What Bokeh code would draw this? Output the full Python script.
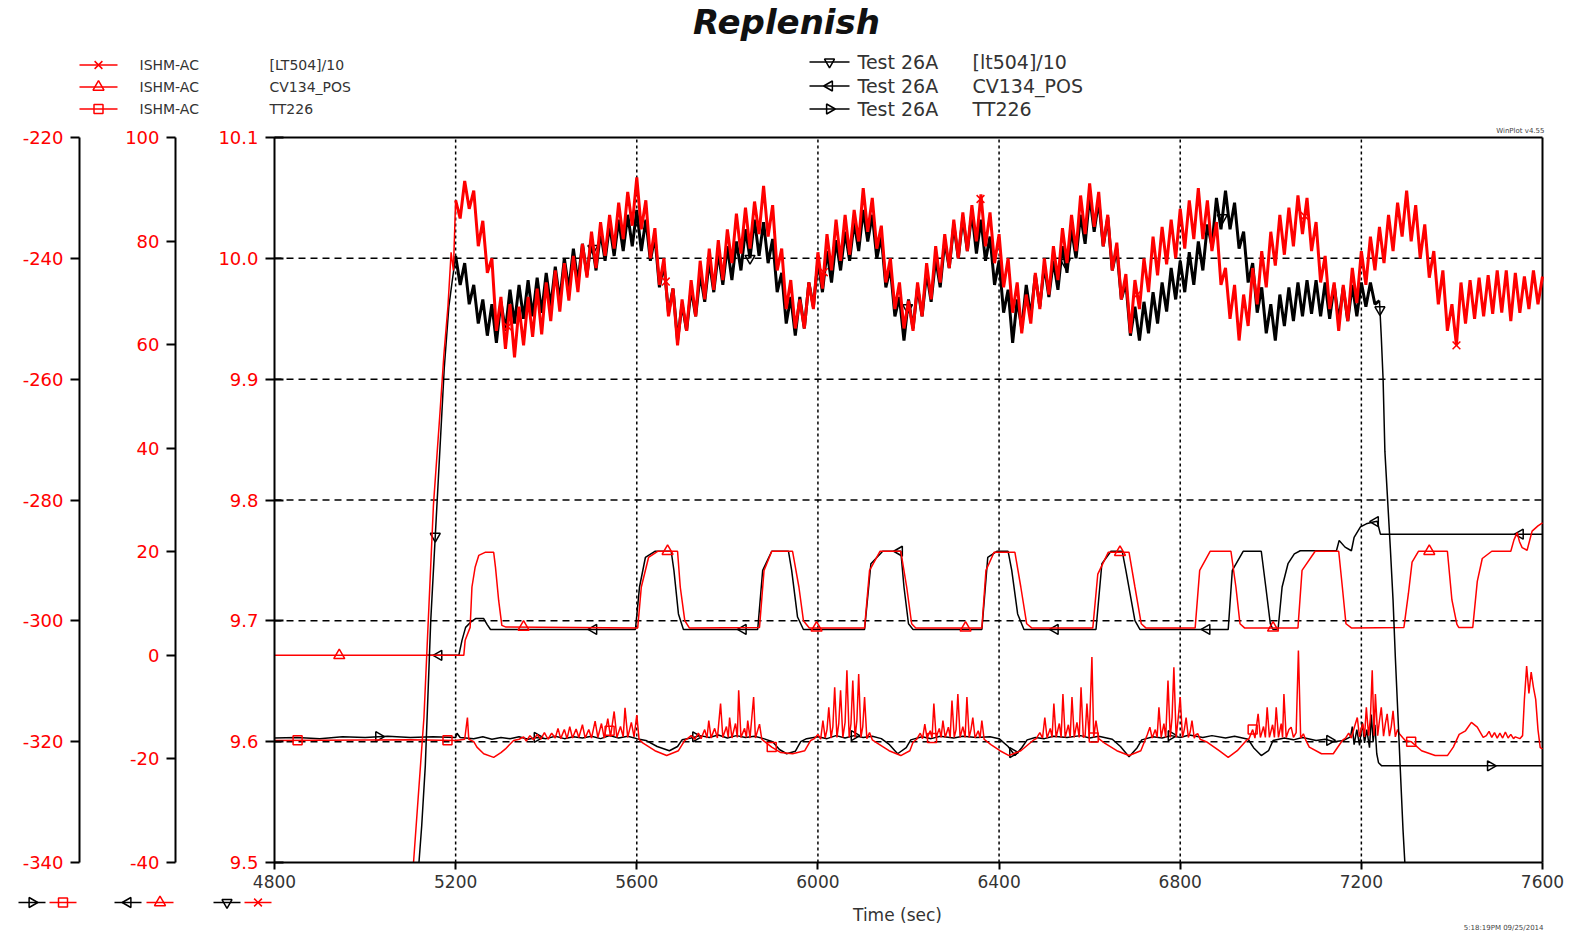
import numpy as np
from bokeh.plotting import figure
from bokeh.models import Range1d, LinearAxis, FixedTicker, PrintfTickFormatter
from bokeh.core.properties import value
from bokeh.embed import file_html
from bokeh.resources import INLINE

# ---------------- data ----------------
x_ticks = [4800, 5200, 5600, 6000, 6400, 6800, 7200, 7600]
lt_ticks = [9.5, 9.6, 9.7, 9.8, 9.9, 10.0, 10.1]
cv_ticks = [-40, -20, 0, 20, 40, 60, 80, 100]
tt_ticks = [-340, -320, -300, -280, -260, -240, -220]

# ISHM-AC [LT504]/10  (enters the plotted range at 9.5)
lt_red_rise_t = [5107, 5130, 5151, 5165, 5174, 5183, 5190, 5195, 5200]
lt_red_rise_v = [9.50, 9.62, 9.796, 9.87, 9.92, 9.96, 10.005, 9.99, 10.048]
lt_red_vals = [
    10.048, 10.033, 10.064, 10.041, 10.056, 10.010, 10.031, 9.988, 10.000, 9.940,
    9.968, 9.925, 9.962, 9.918, 9.960, 9.928, 9.968, 9.935, 9.975, 9.937,
    9.980, 9.948, 9.990, 9.956, 9.996, 9.965, 10.002, 9.972, 10.012, 9.984,
    10.022, 9.992, 10.030, 10.002, 10.036, 10.008, 10.046, 10.016, 10.055, 10.027,
    10.067, 10.024, 10.048, 10.000, 10.025, 9.978, 10.000, 9.952, 9.975, 9.928,
    9.966, 9.940, 9.982, 9.952, 9.998, 9.966, 10.008, 9.974, 10.015, 9.982,
    10.024, 9.996, 10.037, 10.004, 10.042, 10.008, 10.047, 10.020, 10.060, 10.018,
    10.044, 9.990, 10.008, 9.958, 9.982, 9.942, 9.966, 9.942, 9.980, 9.958,
    10.005, 9.975, 10.020, 9.990, 10.032, 9.998, 10.036, 10.003, 10.040, 10.014,
    10.058, 10.022, 10.050, 10.008, 10.027, 9.980, 10.000, 9.958, 9.980, 9.942,
    9.965, 9.940, 9.980, 9.952, 9.996, 9.966, 10.010, 9.980, 10.020, 9.992,
    10.032, 10.000, 10.038, 10.006, 10.044, 10.014, 10.053, 10.010, 10.038, 9.996,
    10.020, 9.976, 10.000, 9.955, 9.980, 9.938, 9.970, 9.946, 9.988, 9.958,
    10.000, 9.970, 10.010, 9.982, 10.025, 9.996, 10.036, 10.006, 10.052, 10.020,
    10.062, 10.026, 10.055, 10.010, 10.036, 9.990, 10.013, 9.966, 9.987, 9.938,
    9.982, 9.958, 10.000, 9.972, 10.018, 9.986, 10.026, 9.995, 10.032, 10.000,
    10.041, 10.008, 10.048, 10.016, 10.058, 10.016, 10.048, 10.006, 10.030, 9.978,
    9.992, 9.950, 9.978, 9.932, 9.970, 9.944, 9.992, 9.962, 10.006, 9.976,
    10.022, 9.994, 10.036, 10.003, 10.042, 10.010, 10.052, 10.020, 10.050, 10.006,
    10.030, 9.980, 10.002, 9.958, 9.980, 9.940, 9.978, 9.948, 9.992, 9.963,
    10.006, 9.978, 10.018, 9.990, 10.026, 9.996, 10.036, 10.006, 10.046, 10.018,
    10.056, 10.014, 10.044, 10.000, 10.028, 9.984, 10.006, 9.962, 9.990, 9.940,
    9.962, 9.928, 9.980, 9.946, 9.982, 9.950, 9.984, 9.952, 9.986, 9.954,
    9.990, 9.955, 9.990, 9.948, 9.988, 9.955, 9.985, 9.958, 9.990, 9.962,
    9.985,
]

# Test 26A [lt504]/10
lt_blk_rise_t = [5119, 5125, 5133, 5145, 5155, 5165, 5175, 5185, 5192, 5200]
lt_blk_rise_v = [9.50, 9.53, 9.58, 9.70, 9.77, 9.84, 9.91, 9.96, 9.98, 10.002]
lt_blk_vals = [
    10.002, 9.978, 9.996, 9.962, 9.978, 9.946, 9.966, 9.936, 9.962, 9.930,
    9.964, 9.940, 9.974, 9.946, 9.978, 9.950, 9.982, 9.952, 9.984, 9.955,
    9.988, 9.960, 9.993, 9.965, 10.000, 9.974, 10.008, 9.980, 10.012, 9.986,
    10.016, 9.990, 10.022, 9.998, 10.028, 10.002, 10.032, 10.006, 10.036, 10.010,
    10.040, 10.006, 10.032, 9.998, 10.018, 9.976, 9.995, 9.955, 9.975, 9.932,
    9.962, 9.940, 9.975, 9.952, 9.987, 9.964, 9.998, 9.972, 10.005, 9.978,
    10.010, 9.982, 10.014, 9.990, 10.024, 10.000, 10.032, 10.002, 10.030, 9.996,
    10.016, 9.972, 9.988, 9.946, 9.968, 9.936, 9.968, 9.942, 9.980, 9.960,
    9.998, 9.972, 10.006, 9.980, 10.015, 9.990, 10.022, 9.998, 10.030, 10.006,
    10.040, 10.014, 10.036, 10.000, 10.018, 9.976, 9.992, 9.952, 9.968, 9.932,
    9.966, 9.942, 9.976, 9.952, 9.988, 9.964, 10.000, 9.976, 10.014, 9.992,
    10.028, 10.000, 10.034, 10.006, 10.038, 10.004, 10.032, 9.998, 10.018, 9.978,
    9.998, 9.955, 9.974, 9.930, 9.966, 9.942, 9.978, 9.952, 9.986, 9.960,
    9.994, 9.968, 9.998, 9.974, 10.010, 9.988, 10.024, 10.000, 10.036, 10.012,
    10.052, 10.022, 10.048, 10.010, 10.034, 9.990, 10.008, 9.966, 9.980, 9.936,
    9.960, 9.932, 9.964, 9.938, 9.972, 9.946, 9.980, 9.956, 9.992, 9.966,
    9.998, 9.972, 10.005, 9.978, 10.014, 9.990, 10.028, 10.010, 10.050, 10.024,
    10.056, 10.024, 10.046, 10.008, 10.022, 9.980, 9.996, 9.955, 9.976, 9.938,
    9.962, 9.932, 9.970, 9.944, 9.976, 9.948, 9.980, 9.952, 9.982, 9.954,
    9.982, 9.952, 9.980, 9.950, 9.978, 9.948, 9.976, 9.948, 9.978, 9.952,
    9.980, 9.960, 9.980, 9.962, 9.965,
]
lt_blk_drop_t = [7240, 7244, 7248, 7252, 7258, 7264, 7270, 7275, 7281, 7286, 7292, 7296]
lt_blk_drop_v = [9.965, 9.935, 9.90, 9.84, 9.80, 9.76, 9.717, 9.67, 9.62, 9.577, 9.527, 9.50]

# ISHM-AC CV134_POS
cv_red = [
    (4800, 0), (5218, 0), (5221, 2.9), (5232, 5.4), (5236, 13.2), (5243, 17.0), (5251, 19.3),
    (5265, 19.9), (5284, 19.9), (5288, 17.0), (5295, 10.6), (5302, 5.8), (5310, 5.5),
    (5602, 5.3), (5610, 13.2), (5626, 18.9), (5646, 20.1), (5690, 20.1), (5696, 13.2), (5706, 6.7), (5716, 5.3),
    (5871, 5.4), (5881, 16.4), (5898, 20.1), (5944, 20.1), (5958, 13.2), (5968, 6.7), (5981, 5.3),
    (6103, 5.3), (6114, 16.4), (6137, 20.1), (6183, 20.1), (6196, 13.2), (6207, 6.1), (6216, 5.3),
    (6362, 5.3), (6371, 16.4), (6389, 19.9), (6435, 19.9), (6448, 13.2), (6461, 6.1), (6472, 5.3),
    (6607, 5.3), (6618, 15.7), (6641, 19.9), (6687, 19.9), (6700, 13.2), (6714, 6.1), (6724, 5.3),
    (6833, 5.3), (6843, 16.4), (6866, 20.1), (6912, 20.1), (6923, 13.2), (6932, 6.1), (6942, 5.3),
    (7060, 5.3), (7069, 16.4), (7098, 20.1), (7150, 20.1), (7158, 13.2), (7166, 6.1), (7178, 5.3),
    (7294, 5.4), (7304, 12.0), (7312, 18.0), (7326, 20.1), (7390, 20.1), (7400, 10.7), (7411, 6.0), (7415, 5.4),
    (7446, 5.4), (7456, 14.3), (7467, 18.7), (7488, 20.1), (7530, 20.1), (7537, 22.3), (7544, 23.7),
    (7549, 22.0), (7555, 20.8), (7566, 20.3), (7577, 24.0), (7590, 25.0), (7600, 25.6),
]
# Test 26A CV134_POS
cv_blk = [
    (5135, 0), (5207, 0), (5214, 2.9), (5222, 5.4), (5233, 6.4), (5244, 7.1), (5262, 7.1), (5270, 5.9), (5277, 5.0),
    (5597, 5.0), (5606, 13.2), (5619, 18.9), (5640, 20.1), (5676, 20.1), (5682, 16.4), (5692, 8.0), (5703, 5.0),
    (5867, 5.0), (5878, 16.4), (5898, 20.1), (5935, 20.1), (5942, 16.4), (5955, 7.4), (5968, 5.0),
    (6103, 5.0), (6117, 17.7), (6143, 20.1), (6183, 20.1), (6190, 13.2), (6200, 6.1), (6210, 5.0),
    (6362, 5.0), (6375, 18.9), (6395, 20.1), (6420, 20.1), (6428, 16.4), (6441, 8.0), (6455, 5.0),
    (6614, 5.0), (6627, 17.7), (6647, 20.1), (6672, 20.1), (6680, 16.4), (6700, 6.7), (6711, 5.0),
    (6906, 5.0), (6915, 16.4), (6939, 20.1), (6979, 20.1), (6989, 13.2), (6999, 6.1), (7005, 5.0),
    (7016, 5.0), (7025, 13.2), (7038, 17.7), (7052, 19.6), (7065, 20.2), (7145, 20.2), (7151, 22.2),
    (7164, 20.9), (7178, 20.2), (7184, 22.8), (7198, 24.8), (7211, 25.4), (7224, 25.7), (7235, 25.9),
    (7242, 23.4), (7600, 23.4),
]

# ISHM-AC TT226
tt_red = [
    (4800, -319.8), (5100, -319.7), (5200, -319.8), (5220, -319.6), (5226, -316.0), (5229, -319.6),
    (5240, -320.0), (5247, -320.9), (5262, -322.0), (5284, -322.6), (5300, -321.8), (5310, -321.2), (5328, -319.8),
    (5340, -319.6), (5350, -319.2), (5356, -319.9), (5364, -319.0), (5372, -319.7), (5380, -318.8), (5388, -319.6),
    (5396, -318.5), (5404, -319.6), (5412, -318.6), (5420, -319.4), (5426, -317.8), (5432, -319.5), (5440, -318.0),
    (5446, -319.5), (5452, -317.5), (5458, -319.4), (5466, -317.9), (5472, -319.3), (5480, -317.2), (5486, -319.4),
    (5494, -318.0), (5500, -319.4), (5508, -316.6), (5514, -319.3), (5522, -317.0), (5528, -319.4), (5536, -316.2),
    (5542, -319.2), (5550, -315.0), (5556, -319.3), (5564, -317.5), (5570, -319.2), (5574, -314.4), (5580, -319.3),
    (5588, -316.8), (5594, -319.2), (5600, -315.6), (5605, -319.6),
    (5613, -320.2), (5640, -321.5), (5666, -322.3), (5692, -321.5), (5706, -319.8),
    (5712, -319.5), (5720, -319.0), (5728, -319.6), (5736, -318.6), (5742, -319.5), (5750, -318.0), (5755, -319.4),
    (5759, -316.5), (5764, -319.4), (5772, -317.8), (5778, -319.4), (5785, -313.7), (5790, -319.3), (5798, -317.5),
    (5802, -319.3), (5805, -316.0), (5810, -319.4), (5818, -317.0), (5822, -319.3), (5825, -311.5), (5830, -319.3),
    (5838, -317.8), (5842, -319.3), (5845, -316.5), (5850, -319.4), (5858, -312.6), (5862, -319.4), (5871, -317.1),
    (5876, -319.6),
    (5898, -320.9), (5918, -321.8), (5944, -322.0), (5971, -321.5), (5984, -319.8),
    (5992, -319.5), (6000, -318.8), (6006, -319.6), (6011, -316.5), (6016, -319.4), (6020, -318.0), (6024, -314.3),
    (6029, -319.4), (6033, -317.5), (6037, -311.0), (6042, -319.3), (6046, -317.0), (6050, -311.5), (6055, -319.3),
    (6060, -316.8), (6064, -308.2), (6069, -319.3), (6073, -317.0), (6077, -309.9), (6082, -319.3), (6086, -316.5),
    (6090, -308.8), (6095, -319.3), (6099, -317.5), (6103, -312.6), (6108, -319.5), (6114, -318.5), (6120, -319.7),
    (6130, -320.2), (6157, -321.5), (6183, -322.3), (6203, -321.5), (6210, -320.1),
    (6218, -319.6), (6226, -318.6), (6231, -319.5), (6236, -317.1), (6241, -319.4), (6248, -318.2), (6252, -319.4),
    (6256, -313.7), (6261, -319.3), (6268, -317.8), (6272, -319.3), (6276, -316.5), (6281, -319.3), (6288, -317.6),
    (6292, -319.3), (6296, -313.2), (6301, -319.3), (6305, -318.0), (6309, -312.1), (6314, -319.3), (6320, -317.5),
    (6325, -319.3), (6329, -312.6), (6334, -319.3), (6338, -318.0), (6342, -316.0), (6347, -319.4), (6354, -318.2),
    (6358, -319.4), (6362, -316.5), (6367, -319.6),
    (6382, -320.5), (6402, -321.5), (6422, -322.3), (6448, -321.5), (6475, -319.8),
    (6482, -319.5), (6490, -318.5), (6496, -319.4), (6501, -316.0), (6506, -319.4), (6513, -317.8), (6517, -319.3),
    (6521, -313.7), (6526, -319.3), (6533, -317.0), (6537, -319.3), (6541, -312.1), (6546, -319.3), (6553, -317.2),
    (6557, -319.3), (6561, -312.6), (6566, -319.3), (6572, -316.8), (6577, -319.3), (6581, -311.0), (6586, -319.3),
    (6590, -319.0), (6594, -313.7), (6599, -319.3), (6605, -306.0), (6609, -319.3), (6614, -316.5), (6620, -319.5),
    (6634, -320.3), (6660, -321.5), (6687, -322.3), (6713, -321.5), (6727, -318.9),
    (6733, -317.6), (6738, -319.4), (6745, -318.0), (6749, -319.3), (6753, -314.3), (6758, -319.3), (6764, -317.0),
    (6768, -319.3), (6773, -309.9), (6778, -319.3), (6782, -316.0), (6786, -307.7), (6791, -319.3), (6795, -316.5),
    (6800, -312.6), (6805, -319.3), (6809, -318.0), (6813, -316.0), (6818, -319.3), (6822, -318.4), (6826, -316.5),
    (6831, -319.4), (6835, -318.8), (6839, -318.7), (6844, -319.6),
    (6860, -320.1), (6886, -321.5), (6906, -322.6), (6926, -321.5), (6946, -319.8),
    (6952, -319.5), (6960, -318.0), (6965, -319.4), (6972, -315.4), (6977, -319.3), (6984, -317.5), (6988, -319.3),
    (6992, -314.3), (6997, -319.3), (7004, -317.2), (7008, -319.3), (7012, -314.3), (7017, -319.3), (7023, -317.0),
    (7026, -319.3), (7029, -312.1), (7034, -319.3), (7040, -318.0), (7045, -317.6), (7050, -319.3), (7056, -318.5),
    (7061, -304.9), (7066, -319.4), (7072, -318.7), (7077, -319.7),
    (7085, -320.9), (7112, -322.0), (7138, -322.0), (7158, -319.8),
    (7165, -319.4), (7172, -318.6), (7178, -319.4), (7185, -317.5), (7191, -316.0), (7196, -319.2), (7203, -317.0),
    (7207, -319.2), (7211, -314.3), (7216, -319.0), (7220, -316.0), (7224, -308.2), (7228, -319.0), (7231, -312.1),
    (7236, -319.0), (7240, -316.5), (7244, -314.3), (7249, -319.1), (7253, -317.0), (7257, -315.4), (7262, -319.1),
    (7266, -317.5), (7270, -314.9), (7275, -319.2), (7280, -318.0), (7284, -318.7), (7292, -319.4),
    (7297, -319.8), (7310, -320.0), (7333, -321.5), (7363, -322.3), (7390, -322.3), (7403, -320.9),
    (7416, -318.8), (7430, -318.2), (7443, -316.8), (7456, -317.6), (7469, -319.3),
    (7476, -319.0), (7482, -318.3), (7488, -319.3), (7494, -318.5), (7500, -319.4), (7506, -318.6), (7512, -319.4),
    (7518, -318.4), (7524, -319.4), (7530, -318.8), (7536, -319.5), (7540, -319.2),
    (7550, -319.5), (7556, -319.0), (7560, -313.0), (7565, -307.5), (7570, -312.0), (7575, -308.5), (7580, -311.0),
    (7585, -313.0), (7590, -318.0), (7595, -321.0), (7600, -321.2),
]
# Test 26A TT226
tt_blk = [
    (4800, -319.4), (4850, -319.3), (4900, -319.5), (4950, -319.2), (5000, -319.3), (5050, -319.1), (5100, -319.3),
    (5150, -319.2), (5200, -319.3), (5203, -318.6), (5210, -319.3), (5240, -319.5), (5260, -319.2), (5280, -319.6),
    (5300, -319.3), (5320, -319.5), (5340, -319.2), (5360, -319.6), (5380, -319.3), (5400, -319.5), (5420, -319.1),
    (5440, -319.5), (5460, -319.2), (5480, -319.4), (5500, -319.1), (5520, -319.5), (5540, -319.0), (5560, -319.4),
    (5580, -319.1), (5600, -319.5), (5620, -319.8), (5645, -320.8), (5672, -321.5), (5690, -320.8), (5700, -319.7),
    (5720, -319.4), (5740, -319.0), (5760, -319.3), (5780, -318.9), (5800, -319.4), (5820, -319.0), (5840, -319.3),
    (5860, -319.1), (5880, -319.5), (5900, -320.0), (5915, -321.3), (5931, -322.0), (5950, -321.6), (5962, -320.0),
    (5975, -319.5), (6000, -319.2), (6020, -319.5), (6040, -319.0), (6060, -319.4), (6080, -319.0), (6100, -319.3),
    (6120, -319.1), (6140, -319.5), (6158, -320.5), (6176, -322.0), (6195, -321.0), (6205, -319.7), (6230, -319.2),
    (6250, -319.5), (6270, -319.1), (6300, -319.4), (6320, -319.1), (6350, -319.3), (6380, -319.2), (6400, -319.5),
    (6420, -320.8), (6435, -322.3), (6450, -321.0), (6462, -319.7), (6480, -319.3), (6500, -319.5), (6520, -319.1),
    (6550, -319.3), (6580, -319.0), (6600, -319.4), (6620, -319.1), (6650, -319.6), (6668, -320.8), (6687, -322.5),
    (6705, -321.0), (6715, -319.7), (6740, -319.2), (6760, -319.4), (6780, -319.0), (6800, -319.3), (6820, -318.9),
    (6850, -319.3), (6870, -319.0), (6900, -319.4), (6920, -319.1), (6950, -319.6), (6962, -321.0), (6979, -322.3),
    (6995, -321.5), (7005, -319.8), (7030, -319.4), (7050, -319.7), (7070, -319.3), (7100, -319.8), (7120, -319.6),
    (7140, -320.0), (7160, -319.8), (7176, -319.2), (7180, -317.5), (7184, -320.5), (7190, -318.0), (7196, -320.6),
    (7202, -316.8), (7207, -320.2), (7212, -318.0), (7218, -321.0), (7222, -315.5), (7226, -320.0), (7230, -317.2),
    (7234, -322.0), (7238, -323.5), (7245, -324.0), (7600, -324.0),
]

# marker times (WinPlot symbol positions along each trace)
mk_lt_red = [5315, 5664, 6013, 6359, 6705, 7075, 7410]
mk_lt_blk = [5155, 5503, 5850, 6198, 6546, 6893, 7241]
mk_cv_red = [4943, 5350, 5668, 5997, 6326, 6667, 7005, 7350]
mk_cv_blk = [5163, 5505, 5835, 6180, 6524, 6859, 7231, 7551]
mk_tt_red = [4851, 5182, 5540, 5898, 6252, 6609, 6960, 7310]
mk_tt_blk = [5030, 5380, 5730, 6080, 6430, 6780, 7130, 7485]

# ---------------- assemble series ----------------
lt_red_t = 5200 + 10 * np.arange(len(lt_red_vals))
lt_blk_t = 5200 + 10 * np.arange(len(lt_blk_vals))
all_lt_red_t = np.concatenate([lt_red_rise_t, lt_red_t])
all_lt_red_v = np.concatenate([lt_red_rise_v, lt_red_vals])
all_lt_blk_t = np.concatenate([lt_blk_rise_t, lt_blk_t, lt_blk_drop_t])
all_lt_blk_v = np.concatenate([lt_blk_rise_v, lt_blk_vals, lt_blk_drop_v])
cv_red_t, cv_red_v = map(np.array, zip(*cv_red))
cv_blk_t, cv_blk_v = map(np.array, zip(*cv_blk))
tt_red_t, tt_red_v = map(np.array, zip(*tt_red))
tt_blk_t, tt_blk_v = map(np.array, zip(*tt_blk))

# ---------------- page layout (pixels) ----------------
FONT = "DejaVu Sans"
RED = "#ff0000"
BLK = "#000000"
GREY = "#333333"
W, H = 1580, 932
FL, FR, FT, FB = 274, 1542, 137, 862      # plotting box on the page
X_TT, X_CV = 79, 175                      # positions of the two extra y axes

SX = (x_ticks[-1] - x_ticks[0]) / (FR - FL)


def X(px):
    return x_ticks[0] + (px - FL) * SX


def lin(lo, hi):
    k = (hi - lo) / (FB - FT)
    return lambda py: lo + (FB - py) * k


Y = lin(lt_ticks[0], lt_ticks[-1])
YCV = lin(cv_ticks[0], cv_ticks[-1])
YTT = lin(tt_ticks[0], tt_ticks[-1])

p = figure(width=W, height=H, x_range=Range1d(X(0), X(W)), y_range=Range1d(Y(H), Y(0)),
           x_axis_type=None, y_axis_type=None, output_backend="svg",
           toolbar_location=None, title=None, min_border=0)
p.outline_line_color = None
p.background_fill_color = "white"
p.border_fill_color = "white"
p.extra_y_ranges = {"cv": Range1d(YCV(H), YCV(0)), "tt": Range1d(YTT(H), YTT(0))}


def style(ax, color, tick_in, tick_out, standoff, size="18px"):
    ax.major_label_text_font = FONT
    ax.major_label_text_font_size = size
    ax.major_label_text_color = color
    ax.major_label_standoff = standoff
    ax.major_tick_in = tick_in
    ax.major_tick_out = tick_out
    ax.minor_tick_line_color = None
    ax.axis_line_width = 2
    ax.major_tick_line_width = 2


xa = LinearAxis(ticker=FixedTicker(ticks=x_ticks), formatter=PrintfTickFormatter(format="%d"),
                fixed_location=lt_ticks[0], bounds=(x_ticks[0], x_ticks[-1]))
style(xa, GREY, 0, 7, 5, "17px")
p.add_layout(xa, "below")

ya = LinearAxis(ticker=FixedTicker(ticks=lt_ticks), formatter=PrintfTickFormatter(format="%.1f"),
                fixed_location=x_ticks[0], bounds=(lt_ticks[0], lt_ticks[-1]))
style(ya, RED, 9, 9, 7)
p.add_layout(ya, "left")

cv_ax = LinearAxis(y_range_name="cv", ticker=FixedTicker(ticks=cv_ticks),
                   formatter=PrintfTickFormatter(format="%d"),
                   fixed_location=X(X_CV), bounds=(cv_ticks[0], cv_ticks[-1]))
style(cv_ax, RED, 0, 9, 7)
p.add_layout(cv_ax, "left")

tt_ax = LinearAxis(y_range_name="tt", ticker=FixedTicker(ticks=tt_ticks),
                   formatter=PrintfTickFormatter(format="%d"),
                   fixed_location=X(X_TT), bounds=(tt_ticks[0], tt_ticks[-1]))
style(tt_ax, RED, 0, 9, 7)
p.add_layout(tt_ax, "left")

# grid lines (inside the plotting box only) and the box's top/right edges
inner_x = x_ticks[1:-1]
inner_y = lt_ticks[1:-1]
p.segment(x0=inner_x, y0=[lt_ticks[0]] * len(inner_x), x1=inner_x, y1=[lt_ticks[-1]] * len(inner_x),
          line_color="black", line_width=1.5, line_dash="3 3")
p.segment(x0=[x_ticks[0]] * len(inner_y), y0=inner_y, x1=[x_ticks[-1]] * len(inner_y), y1=inner_y,
          line_color="black", line_width=1.5, line_dash="7 5")
p.segment(x0=[x_ticks[0], x_ticks[-1]], y0=[lt_ticks[-1], lt_ticks[0]],
          x1=[x_ticks[-1], x_ticks[-1]], y1=[lt_ticks[-1], lt_ticks[-1]],
          line_color="black", line_width=2)

MK = {  # marker styles: (marker, size, angle)
    "lt_red": ("x", 11, 0.0), "cv_red": ("triangle", 11, 0.0), "tt_red": ("square", 9, 0.0),
    "lt_blk": ("inverted_triangle", 10, 0.0), "cv_blk": ("triangle", 10, np.pi / 2),
    "tt_blk": ("triangle", 10, -np.pi / 2),
}


def marks(xs, ys, color, key, rng=None):
    kw = {} if rng is None else {"y_range_name": rng}
    m, s, a = MK[key]
    p.scatter(xs, ys, marker=m, size=s, angle=a, line_color=color, line_width=1.5,
              fill_alpha=0, **kw)


p.line(tt_blk_t, tt_blk_v, line_color=BLK, line_width=1.5, y_range_name="tt")
marks(mk_tt_blk, np.interp(mk_tt_blk, tt_blk_t, tt_blk_v), BLK, "tt_blk", "tt")
p.line(tt_red_t, tt_red_v, line_color=RED, line_width=1.5, y_range_name="tt")
marks(mk_tt_red, np.interp(mk_tt_red, tt_red_t, tt_red_v), RED, "tt_red", "tt")

p.line(cv_blk_t, cv_blk_v, line_color=BLK, line_width=1.5, y_range_name="cv")
marks(mk_cv_blk, np.interp(mk_cv_blk, cv_blk_t, cv_blk_v), BLK, "cv_blk", "cv")
p.line(cv_red_t, cv_red_v, line_color=RED, line_width=1.5, y_range_name="cv")
marks(mk_cv_red, np.interp(mk_cv_red, cv_red_t, cv_red_v), RED, "cv_red", "cv")

p.line(lt_blk_rise_t, lt_blk_rise_v, line_color=BLK, line_width=1.5)
p.line(lt_blk_t, lt_blk_vals, line_color=BLK, line_width=3, line_join="bevel")
p.line(lt_blk_drop_t, lt_blk_drop_v, line_color=BLK, line_width=1.5)
marks(mk_lt_blk, np.interp(mk_lt_blk, all_lt_blk_t, all_lt_blk_v), BLK, "lt_blk")
p.line(lt_red_rise_t, lt_red_rise_v, line_color=RED, line_width=1.5)
p.line(lt_red_t, lt_red_vals, line_color=RED, line_width=3, line_join="bevel")
marks(mk_lt_red, np.interp(mk_lt_red, all_lt_red_t, all_lt_red_v), RED, "lt_red")


# ---------------- titles, legends, captions (page pixels -> data) ----------------
def txt(px, py, text, size, color=GREY, align="left", style="normal"):
    p.text(x=[X(px)], y=[Y(py)], text=[text], text_font=value(FONT), text_font_size=value(size),
           text_color=color, text_align=align, text_baseline="middle", text_font_style=style)


def icon(x0, x1, py, color, key):
    p.segment(x0=[X(x0)], y0=[Y(py)], x1=[X(x1)], y1=[Y(py)], line_color=color, line_width=1.5)
    marks([X((x0 + x1) / 2)], [Y(py)], color, key)


txt(786, 21, "Replenish", "34px", "#111111", "center", "bold italic")

for py, key, name in zip([64.5, 86.5, 108.5], ["lt_red", "cv_red", "tt_red"],
                         ["[LT504]/10", "CV134_POS", "TT226"]):
    icon(79, 117, py, RED, key)
    txt(139, py, "ISHM-AC", "14px")
    txt(269, py, name, "14px")

for py, key, name in zip([61.5, 85.5, 108.5], ["lt_blk", "cv_blk", "tt_blk"],
                         ["[lt504]/10", "CV134_POS", "TT226"]):
    icon(809, 849, py, BLK, key)
    txt(857, py, "Test 26A", "19px")
    txt(972, py, name, "19px")

txt(1544, 130, "WinPlot v4.55", "7px", "#444444", "right")

for x0, color, key in [(18, BLK, "tt_blk"), (49, RED, "tt_red"), (114, BLK, "cv_blk"),
                       (146, RED, "cv_red"), (213, BLK, "lt_blk"), (244, RED, "lt_red")]:
    icon(x0, x0 + 27, 902, color, key)
txt(897, 914, "Time (sec)", "17px", GREY, "center")
txt(1543, 927, "5:18:19PM 09/25/2014", "7px", "#444444", "right")

open("out.html", "w").write(file_html(p, INLINE))
